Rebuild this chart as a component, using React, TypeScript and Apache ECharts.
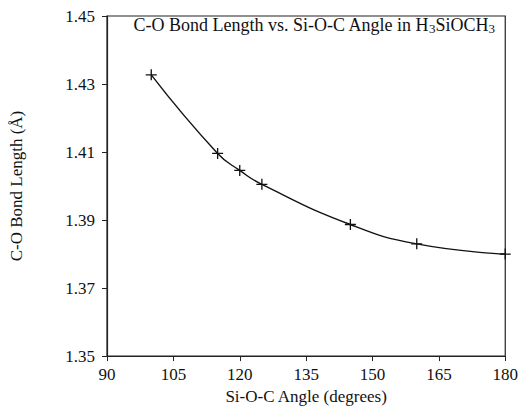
import React, { useEffect, useRef } from "react";
import * as echarts from "echarts";

const angles = [100, 115, 120, 125, 145, 160, 180];
const bondLengths = [1.4327, 1.4096, 1.4046, 1.4005, 1.3887, 1.383, 1.38];
const yTicks = [1.35, 1.37, 1.39, 1.41, 1.43, 1.45];
const xTicks = [90, 105, 120, 135, 150, 165, 180];

const FONT = "Liberation Serif";

export default function App() {
  const ref = useRef<HTMLDivElement>(null);
  useEffect(() => {
    if (!ref.current) return;
    const chart = echarts.init(ref.current, null, { renderer: "svg" });
    const data = angles.map((a, i) => [a, bondLengths[i]]);
    chart.setOption({
      animation: false,
      backgroundColor: "#fff",
      textStyle: { fontFamily: FONT, color: "#111" },
      grid: {
        left: 105,
        right: 12,
        top: 16,
        bottom: 53,
        show: true,
        borderColor: "#222",
        borderWidth: 1.2,
        backgroundColor: "transparent",
      },
      xAxis: {
        type: "value",
        min: 90,
        max: 180,
        interval: 15,
        name: "Si-O-C Angle (degrees)",
        nameLocation: "middle",
        nameGap: 30,
        nameTextStyle: { fontFamily: FONT, fontSize: 17, color: "#111" },
        axisLine: { show: true, onZero: false, lineStyle: { color: "#222", width: 1.2 } },
        axisTick: { show: true, length: 5, inside: false, customValues: xTicks, lineStyle: { color: "#222" } },
        axisLabel: { fontFamily: FONT, fontSize: 17, color: "#111", margin: 10, customValues: xTicks },
        splitLine: { show: false },
      },
      yAxis: {
        type: "value",
        min: 1.35,
        max: 1.45,
        name: "C-O Bond Length (Å)",
        nameLocation: "middle",
        nameGap: 82,
        nameRotate: 90,
        nameTextStyle: { fontFamily: FONT, fontSize: 17, color: "#111" },
        axisLine: { show: true, lineStyle: { color: "#222", width: 1.2 } },
        axisTick: { show: true, length: 5, customValues: yTicks, lineStyle: { color: "#222" } },
        axisLabel: {
          fontFamily: FONT,
          fontSize: 17,
          color: "#111",
          margin: 12,
          customValues: yTicks,
          formatter: (v: number) => v.toFixed(2),
        },
        splitLine: { show: false },
      },
      graphic: [
        {
          type: "text",
          x: 314,
          y: 16,
          style: {
            text: "{a|C-O Bond Length vs. Si-O-C Angle in H}{s|3}{a|SiOCH}{s|3}",
            align: "center",
            verticalAlign: "top",
            rich: {
              a: { fontFamily: FONT, fontSize: 18, fill: "#111", lineHeight: 20, verticalAlign: "top" },
              s: { fontFamily: FONT, fontSize: 13, fill: "#111", lineHeight: 20, padding: [6, 0, 0, 0], verticalAlign: "top" },
            },
          },
        },
      ],
      series: [
        {
          type: "line",
          data,
          smooth: 0.5,
          showSymbol: true,
          symbol: "path://M0,4.4h10v1.2h-10z M4.4,0h1.2v10h-1.2z",
          symbolSize: 11,
          itemStyle: { color: "#111" },
          lineStyle: { color: "#111", width: 1.4 },
          clip: false,
        },
      ],
    });
    return () => chart.dispose();
  }, []);
  return <div ref={ref} style={{ width: 521, height: 410, position: "absolute", left: 0, top: 0 }} />;
}
